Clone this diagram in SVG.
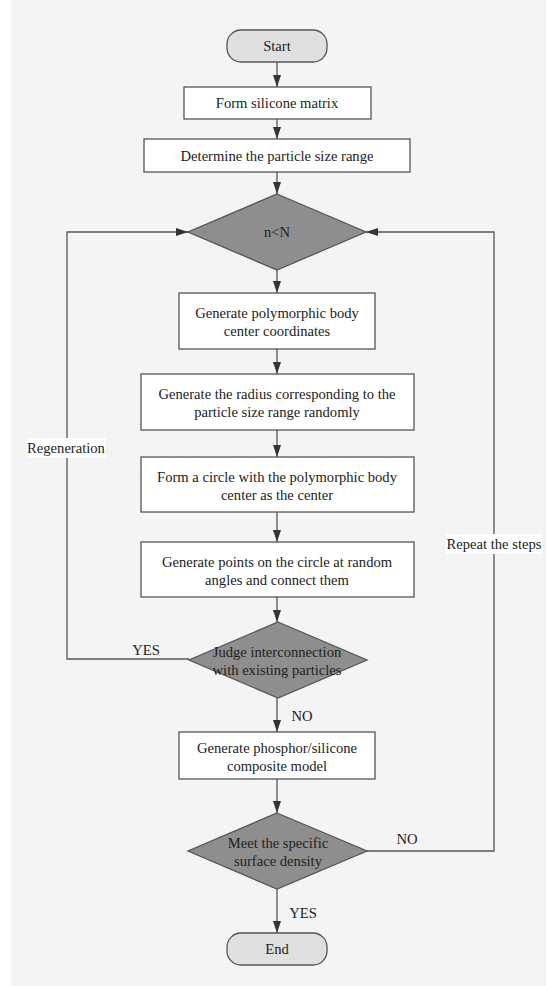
<svg xmlns="http://www.w3.org/2000/svg" width="555" height="986" viewBox="0 0 555 986">
<style>
text{font-family:"Liberation Serif","Times New Roman",serif;font-size:14.6px;fill:#222;text-anchor:middle;dominant-baseline:central}
.box{fill:#fff;stroke:#555;stroke-width:1.3}
.term{fill:#e0e0e0;stroke:#555;stroke-width:1.3}
.dec{fill:#8e8e8e;stroke:#555;stroke-width:1.3}
.ln{fill:none;stroke:#555;stroke-width:1.3}
.lbl-bg{fill:#fff}
</style>
<defs>
<marker id="ah" viewBox="0 0 12 8" refX="12" refY="4" markerWidth="12" markerHeight="8" markerUnits="userSpaceOnUse" orient="auto">
<path d="M0,0 L12,4 L0,8 Z" fill="#333"/>
</marker>
</defs>
<rect x="0" y="0" width="555" height="986" fill="#fff"/>
<rect x="11" y="0" width="535" height="986" fill="#f4f4f4"/>

<g id="connectors">
<line class="ln" x1="277" y1="62" x2="277" y2="87" marker-end="url(#ah)"/>
<line class="ln" x1="277" y1="119" x2="277" y2="139" marker-end="url(#ah)"/>
<line class="ln" x1="277" y1="172" x2="277" y2="194" marker-end="url(#ah)"/>
<line class="ln" x1="277" y1="270" x2="277" y2="293" marker-end="url(#ah)"/>
<line class="ln" x1="277" y1="349" x2="277" y2="374" marker-end="url(#ah)"/>
<line class="ln" x1="277" y1="430" x2="277" y2="457" marker-end="url(#ah)"/>
<line class="ln" x1="277" y1="512" x2="277" y2="542" marker-end="url(#ah)"/>
<line class="ln" x1="277" y1="597" x2="277" y2="622" marker-end="url(#ah)"/>
<line class="ln" x1="277" y1="698" x2="277" y2="732" marker-end="url(#ah)"/>
<line class="ln" x1="277" y1="779" x2="277" y2="813" marker-end="url(#ah)"/>
<line class="ln" x1="277" y1="889" x2="277" y2="933" marker-end="url(#ah)"/>
<polyline class="ln" points="189,659 67,659 67,232 188,232" marker-end="url(#ah)"/>
<polyline class="ln" points="367,851 494,851 494,232 366,232" marker-end="url(#ah)"/>
<rect class="lbl-bg" x="27" y="438" width="79" height="20"/>
<text x="66" y="448">Regeneration</text>
<rect class="lbl-bg" x="446" y="534" width="96" height="20"/>
<text x="494" y="544">Repeat the steps</text>
<text x="146" y="650">YES</text>
<text x="302" y="716">NO</text>
<text x="407" y="839">NO</text>
<text x="303" y="913">YES</text>
</g>

<g id="start">
<rect class="term" x="227" y="30" width="100" height="32" rx="14"/>
<text x="277" y="46">Start</text>
</g>
<g id="form-matrix">
<rect class="box" x="184" y="87" width="187" height="32"/>
<text x="277" y="103">Form silicone matrix</text>
</g>
<g id="determine">
<rect class="box" x="144" y="139" width="266" height="33"/>
<text x="277" y="155.5">Determine the particle size range</text>
</g>
<g id="n-lt-N">
<polygon class="dec" points="277,194 366,232 277,270 188,232"/>
<text x="277" y="232">n&lt;N</text>
</g>
<g id="gen-center">
<rect class="box" x="179" y="293" width="196" height="56"/>
<text x="277" y="313">Generate polymorphic body</text>
<text x="277" y="331">center coordinates</text>
</g>
<g id="gen-radius">
<rect class="box" x="141" y="374" width="273" height="56"/>
<text x="277" y="394">Generate the radius corresponding to the</text>
<text x="277" y="412">particle size range randomly</text>
</g>
<g id="form-circle">
<rect class="box" x="141" y="457" width="273" height="55"/>
<text x="277" y="477">Form a circle with the polymorphic body</text>
<text x="277" y="495">center as the center</text>
</g>
<g id="gen-points">
<rect class="box" x="141" y="542" width="273" height="55"/>
<text x="277" y="562">Generate points on the circle at random</text>
<text x="277" y="580">angles and connect them</text>
</g>
<g id="judge">
<polygon class="dec" points="278,622 367,660 278,698 189,660"/>
<text x="277" y="652">Judge interconnection</text>
<text x="277" y="670">with existing particles</text>
</g>
<g id="gen-model">
<rect class="box" x="179" y="732" width="196" height="47"/>
<text x="277" y="748">Generate phosphor/silicone</text>
<text x="277" y="766">composite model</text>
</g>
<g id="meet-density">
<polygon class="dec" points="277,813 367,851 277,889 188,851"/>
<text x="278" y="843">Meet the specific</text>
<text x="278" y="861">surface density</text>
</g>
<g id="end">
<rect class="term" x="227" y="933" width="100" height="32" rx="14"/>
<text x="277" y="949">End</text>
</g>
</svg>
